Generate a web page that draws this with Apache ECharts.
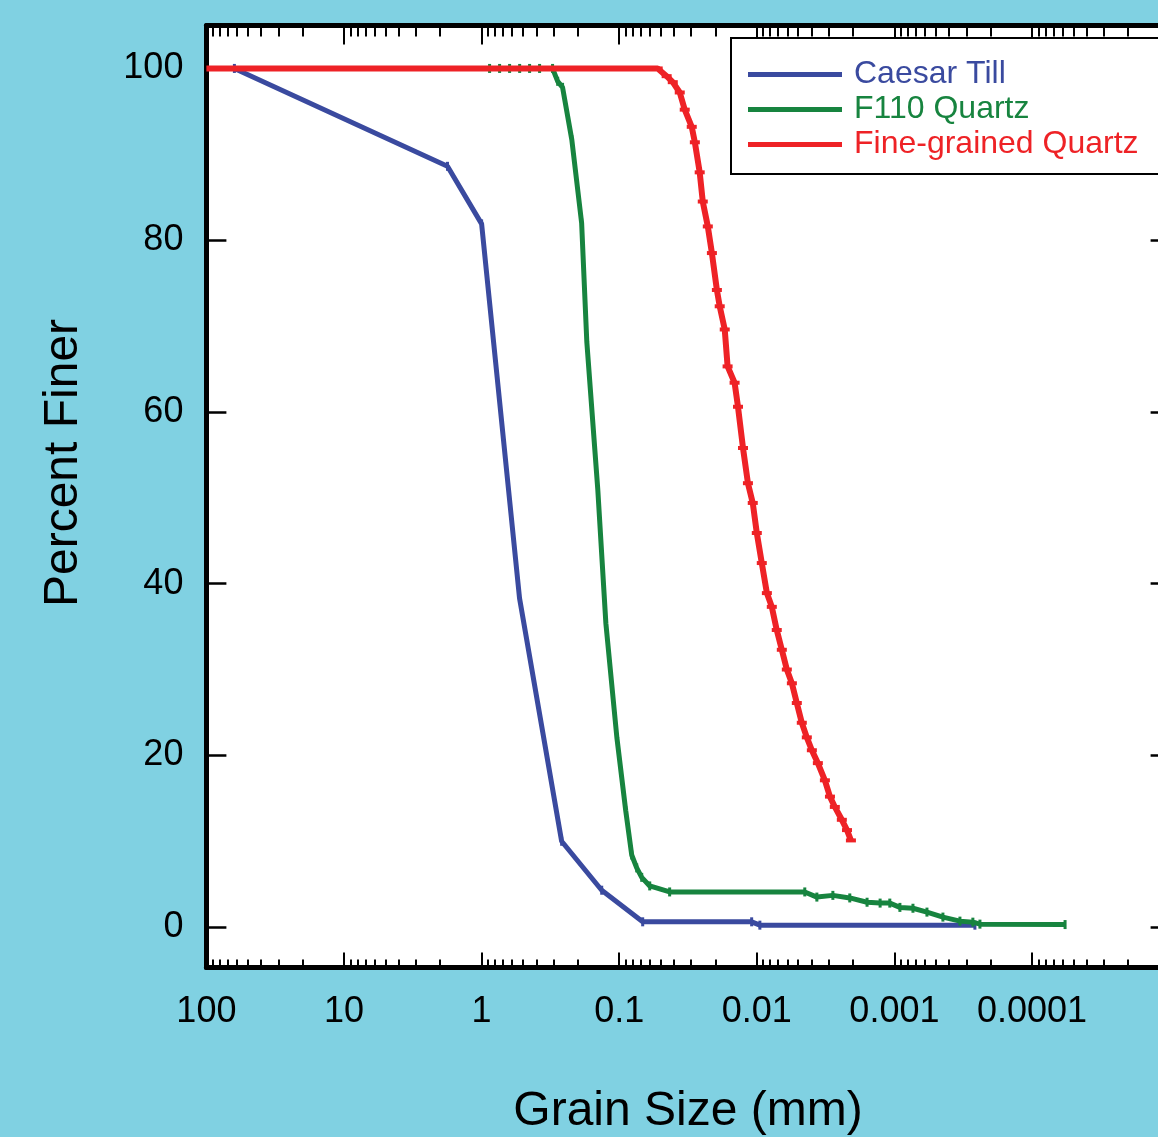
<!DOCTYPE html>
<html>
<head>
<meta charset="utf-8">
<script src="https://cdn.jsdelivr.net/npm/echarts@6/dist/echarts.min.js"></script>
<style>
html,body{margin:0;padding:0;background:#80d1e2;overflow:hidden;}
#chart{width:1190px;height:1137px;}
</style>
</head>
<body>
<div id="chart"></div>
<script>
// ---- data (grain size in mm, percent finer) ----
var caesarSize  = [62.6, 1.77, 1.0, 0.53, 0.262, 0.134, 0.0675, 0.0109, 0.0095, 0.00026];
var caesarFiner = [100, 88.6, 81.9, 38.3, 10.0, 4.3, 0.62, 0.62, 0.23, 0.23];

var f110Size  = [0.875,0.74,0.626,0.529,0.448,0.379,0.305,0.28,0.258,0.221,0.1875,0.172,0.143,0.125,0.104,0.0897,0.0811,0.0746,0.0686,0.060,0.043,0.00448,0.00366,0.0028,0.00211,0.00158,0.00127,0.00108,0.000912,0.000733,0.00058,0.000444,0.000334,0.000269,0.000239,0.0000575];
var f110Finer = [100,100,100,100,100,100,100,98.5,97.8,91.7,82.0,68.2,50.9,35.4,22.1,13.6,8.4,6.9,5.8,4.8,4.1,4.1,3.5,3.7,3.4,2.9,2.8,2.8,2.3,2.2,1.75,1.17,0.7,0.58,0.35,0.3];

var fineSize  = [100,0.0525,0.0452,0.0408,0.0363,0.0334,0.0297,0.0282,0.0260,0.0247,0.0227,0.0212,0.0195,0.0186,0.0171,0.0163,0.0145,0.0137,0.0126,0.0116,0.0107,0.0100,0.0092,0.00845,0.00778,0.00716,0.00658,0.00605,0.00556,0.00512,0.00471,0.00433,0.00398,0.00360,0.00320,0.00294,0.00271,0.00241,0.00221,0.00207];
var fineFiner = [100,100,99.1,98.4,97.2,95.2,93.2,91.4,87.9,84.5,81.6,78.5,74.2,72.3,69.6,65.3,63.4,60.6,55.8,51.7,49.4,45.9,42.4,38.9,37.3,34.6,32.3,30.0,28.4,26.1,23.8,22.1,20.6,19.1,17.1,15.2,14.0,12.5,11.3,10.1];

var seriesNames = ['Caesar Till', 'F110 Quartz', 'Fine-grained Quartz'];
var seriesColors = ['#3a4a9f', '#17843f', '#ee2226'];

// ---- axis ticks ----
var xMajorValues = [100, 10, 1, 0.1, 0.01, 0.001, 0.0001, 0.00001];
var xTickLabels  = ['100', '10', '1', '0.1', '0.01', '0.001', '0.0001'];
var xMinorMultipliers = [2, 3, 4, 5, 6, 7, 8, 9];
var yTickValues = [0, 20, 40, 60, 80, 100];

var FONT = '"Liberation Sans", Arial, Helvetica, sans-serif';

function toLog(sizes, finer) {
  return sizes.map(function (s, i) { return [Math.log10(s), finer[i]]; });
}
var majorLog = xMajorValues.map(function (v) { return Math.round(Math.log10(v)); });
var labelLog = xTickLabels.map(function (t) { return Math.round(Math.log10(parseFloat(t))); });
var minorLog = [];
xMajorValues.slice(1).forEach(function (d) {
  xMinorMultipliers.forEach(function (m) { minorLog.push(Math.log10(m * d)); });
});
function xLabel(v) {
  for (var i = 0; i < labelLog.length; i++) {
    if (Math.abs(labelLog[i] - v) < 1e-6) return xTickLabels[i];
  }
  return '';
}

var gridLeft = 206.4, gridTop = 25.5, gridW = 963.2, gridH = 942;

function xAx(pos, ticks, len, showLine, showLabel) {
  return {
    type: 'value', position: pos, min: -5, max: 2, inverse: true,
    gridIndex: 0,
    axisLine: { show: showLine, onZero: false, lineStyle: { color: '#000', width: 5 } },
    axisTick: { show: true, inside: true, customValues: ticks, length: len, lineStyle: { color: '#000', width: 2 } },
    axisLabel: showLabel ? {
      show: true, customValues: labelLog, formatter: xLabel, margin: 27,
      fontSize: 36, color: '#000', fontFamily: FONT
    } : { show: false },
    splitLine: { show: false }
  };
}

function lineSeries(i, sizes, finer, width, symSize, z) {
  return {
    name: seriesNames[i], type: 'line', data: toLog(sizes, finer), xAxisIndex: 0, yAxisIndex: 0,
    showSymbol: true,
    symbol: function (val) { return val[0] >= 2 ? 'none' : 'rect'; },
    symbolSize: symSize,
    lineStyle: { color: seriesColors[i], width: width },
    itemStyle: { color: seriesColors[i] }, z: z
  };
}

var chart = echarts.init(document.getElementById('chart'), null, { renderer: 'canvas' });
var option = {
  backgroundColor: '#80d1e2',
  animation: false,
  grid: { left: gridLeft, top: gridTop, width: gridW, height: gridH, show: true, backgroundColor: '#ffffff', borderWidth: 0,
          containLabel: false, outerBoundsMode: 'none' },
  xAxis: [
    Object.assign(xAx('bottom', majorLog, 15, true, true), {
      name: 'Grain Size (mm)', nameLocation: 'middle', nameGap: 120,
      nameTextStyle: { fontSize: 48, color: '#000', fontFamily: FONT }
    }),
    xAx('bottom', minorLog, 8, false, false),
    xAx('top', majorLog, 19, true, false),
    xAx('top', minorLog, 11, false, false)
  ],
  yAxis: [
    {
      type: 'value', position: 'left', min: -4.7, max: 105,
      axisLine: { show: true, onZero: false, lineStyle: { color: '#000', width: 5 } },
      axisTick: { show: true, inside: true, customValues: yTickValues, length: 20, lineStyle: { color: '#000', width: 2.5 } },
      axisLabel: { customValues: yTickValues, margin: 23, padding: [12, 0, 0, 0], fontSize: 36, color: '#000', fontFamily: FONT },
      splitLine: { show: false }
    },
    {
      type: 'value', position: 'right', min: -4.7, max: 105,
      axisLine: { show: true, onZero: false, lineStyle: { color: '#000', width: 5 } },
      axisTick: { show: true, inside: true, customValues: yTickValues, length: 19, lineStyle: { color: '#000', width: 2.5 } },
      axisLabel: { show: false },
      splitLine: { show: false }
    }
  ],
  legend: {
    left: 731, top: 38, orient: 'vertical',
    backgroundColor: '#ffffff', borderColor: '#000', borderWidth: 2,
    padding: [19, 30, 12, 17],
    icon: 'rect', itemWidth: 94, itemHeight: 5, itemGap: 0,
    textStyle: { fontSize: 32, lineHeight: 35, fontFamily: FONT, padding: [0, 0, 0, 7] },
    data: seriesNames.map(function (n, i) { return { name: n, textStyle: { color: seriesColors[i] } }; })
  },
  graphic: [{
    type: 'text', x: 64, y: 463, rotation: Math.PI / 2,
    style: { text: 'Percent Finer', font: '48px ' + FONT, fill: '#000', align: 'center', verticalAlign: 'middle' }
  }],
  series: [
    lineSeries(0, caesarSize, caesarFiner, 5, [3, 9], 2),
    lineSeries(1, f110Size, f110Finer, 5, [3, 9], 3),
    lineSeries(2, fineSize, fineFiner, 6, [10, 4], 4)
  ]
};
chart.setOption(option);
</script>
</body>
</html>
